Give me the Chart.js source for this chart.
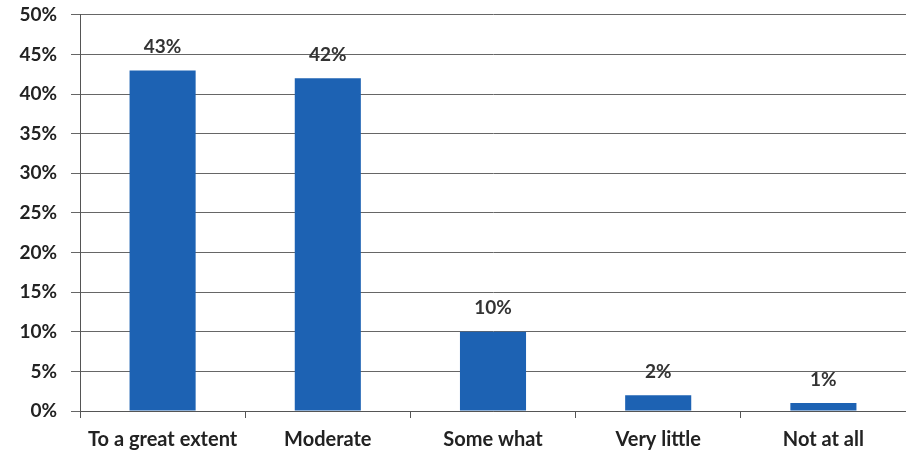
<!DOCTYPE html>
<html lang="en">
<head>
    <meta charset="UTF-8">
    <title>Extent</title>
    <script src="https://cdn.jsdelivr.net/npm/chart.js"></script>
    <style>
        body { margin: 0; background: #fff; }
    </style>
</head>
<body>
    <canvas id="extentChart" width="906" height="457"></canvas>

    <script>
        const categories = ['To a great extent', 'Moderate', 'Some what', 'Very little', 'Not at all'];
        const percentages = [43, 42, 10, 2, 1];
        const yTicks = [0, 5, 10, 15, 20, 25, 30, 35, 40, 45, 50];

        // value labels above each bar
        const barLabels = {
            id: 'barLabels',
            afterDatasetsDraw(chart) {
                const ctx = chart.ctx;
                const meta = chart.getDatasetMeta(0);
                ctx.save();
                ctx.font = 'bold 19px Lato';
                ctx.fillStyle = '#333';
                ctx.textAlign = 'center';
                ctx.textBaseline = 'bottom';
                meta.data.forEach((bar, i) => {
                    ctx.fillText(percentages[i] + '%', bar.x, bar.y - 14);
                });
                ctx.restore();
            }
        };

        const ctx = document.getElementById('extentChart').getContext('2d');
        new Chart(ctx, {
            type: 'bar',
            data: {
                labels: categories,
                datasets: [{
                    data: percentages,
                    backgroundColor: '#1d62b3',
                    barPercentage: 0.4,
                    categoryPercentage: 1
                }]
            },
            options: {
                responsive: false,
                animation: false,
                layout: { padding: { top: 0, right: 0, bottom: 0, left: 0 } },
                plugins: {
                    legend: { display: false },
                    tooltip: { enabled: false }
                },
                scales: {
                    x: {
                        afterFit(axis) { axis.height = 46; },
                        grid: {
                            offset: true,
                            drawOnChartArea: false,
                            tickLength: 7,
                            color: '#555'
                        },
                        border: { color: '#555' },
                        ticks: {
                            font: { family: 'Lato', size: 20, weight: 'bold' },
                            color: '#222',
                            padding: 10,
                            maxRotation: 0
                        }
                    },
                    y: {
                        min: 0,
                        max: 50,
                        afterBuildTicks(axis) {
                            axis.ticks = yTicks.map(v => ({ value: v }));
                        },
                        afterFit(axis) { axis.width = 80; },
                        grid: {
                            color: '#666',
                            tickLength: 9
                        },
                        border: { color: '#555' },
                        ticks: {
                            font: { family: 'Lato', size: 19, weight: 'bold', lineHeight: 0.1 },
                            color: '#222',
                            padding: 14,
                            callback: v => v + '%'
                        }
                    }
                }
            },
            plugins: [barLabels]
        });
    </script>
</body>
</html>
